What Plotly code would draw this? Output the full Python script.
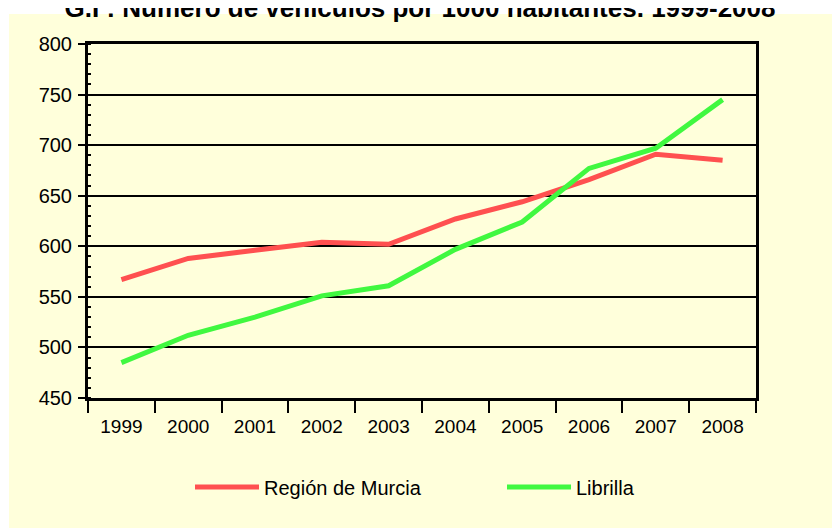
import plotly.graph_objects as go

years = ["1999", "2000", "2001", "2002", "2003", "2004", "2005", "2006", "2007", "2008"]
murcia = [567, 588, 596, 604, 602, 627, 644, 666, 691, 685]
librilla = [485, 512, 530, 551, 561, 597, 624, 677, 697, 745]
y_ticks = [450, 500, 550, 600, 650, 700, 750, 800]

BG = "#FFFFDB"
FONT = "Liberation Sans, Arial, sans-serif"

fig = go.Figure()
fig.add_trace(go.Scatter(x=years, y=murcia, mode="lines", name="Región de Murcia",
                         line=dict(color="#FF5050", width=5)))
fig.add_trace(go.Scatter(x=years, y=librilla, mode="lines", name="Librilla",
                         line=dict(color="#40F840", width=5)))

W, H = 840, 528
L, R, T, B = 80, 92, 36, 138
pw, ph = W - L - R, H - T - B

# light yellow panel behind the chart (white strip above it for the title)
fig.add_shape(type="rect", xref="paper", yref="paper",
              x0=(1 - L) / pw, x1=(W - L) / pw + 0.02,
              y0=-(B + 2) / ph, y1=(H - B - 6) / ph,
              fillcolor=BG, line=dict(width=0), layer="below")

fig.update_layout(
    width=W, height=H,
    margin=dict(l=L, r=R, t=T, b=B),
    paper_bgcolor="white", plot_bgcolor=BG,
    font=dict(family=FONT, size=19, color="black"),
    title=dict(text="<b>G.I : Número de vehículos por 1000 habitantes. 1999-2008</b>",
               x=(420 - 8) / W, xanchor="center", y=1.0, yanchor="middle",
               font=dict(size=26, color="black", family=FONT)),
    showlegend=True,
    legend=dict(orientation="h", x=(182 - L) / pw, xanchor="left",
                y=-(479 - (H - B)) / ph, yanchor="middle",
                bgcolor="rgba(0,0,0,0)", font=dict(size=20),
                entrywidth=233, itemwidth=64),
    xaxis=dict(type="category", tickson="boundaries", ticks="outside", ticklen=12,
               tickwidth=2, tickcolor="black", showgrid=False, showline=True,
               linecolor="black", linewidth=3, mirror=True, zeroline=False,
               tickfont=dict(size=19), ticklabelstandoff=9, range=[-0.5, 9.5]),
    yaxis=dict(range=[450, 800], tickvals=y_ticks, ticks="outside", ticklen=7,
               tickwidth=2, tickcolor="black", showgrid=True, gridcolor="black",
               gridwidth=2, showline=True, linecolor="black", linewidth=3, mirror=True,
               zeroline=False, tickfont=dict(size=20), ticklabelstandoff=2,
               minor=dict(ticks="inside", ticklen=3, dtick=10, tickcolor="black",
                          tickwidth=2, showgrid=False)),
)

fig.write_html("out.html")
